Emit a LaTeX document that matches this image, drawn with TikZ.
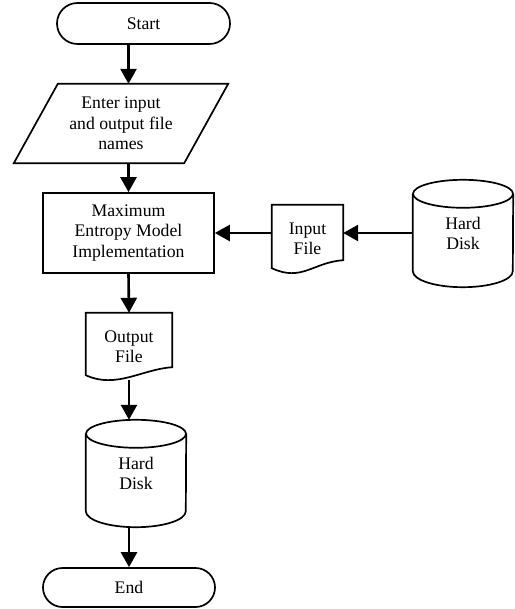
\documentclass[tikz,border=0pt]{standalone}
\usepackage{fontspec}
\setmainfont{Liberation Serif}
\usetikzlibrary{arrows.meta,shapes.misc}

\begin{document}
\begin{tikzpicture}[x=1pt, y=-1pt,
    every node/.style={font=\fontsize{17.7}{20.5}\selectfont, align=center},
    term/.style={rounded rectangle, draw, line width=1.7pt, inner sep=0pt},
    proc/.style={rectangle, draw, line width=1.7pt, inner sep=0pt},
    box/.style={rectangle, inner sep=0pt},
    ln/.style={line width=1.7pt, line join=miter},
    e/.style={line width=2.6pt, -{Triangle[length=15pt, width=16pt]}},
  ]
  \useasboundingbox (0,0) rectangle (514,609);
  \node[term, minimum width=173pt, minimum height=41pt] (start) at (143.5, 23.5) {Start};
  \node[box, minimum width=214pt, minimum height=79pt] (io) at (121, 123.5) {Enter input\\and output file\\names};
  \node[proc, minimum width=171pt, minimum height=80pt] (impl) at (128.5, 233) {Maximum\\Entropy Model\\Implementation};
  \node[box, minimum width=71pt, minimum height=68pt] (inf) at (307.5, 239) {Input\\File};
  \node[box, minimum width=100pt, minimum height=107pt] (hd1) at (463, 233.5) {Hard\\Disk};
  \node[box, minimum width=86pt, minimum height=67pt] (outf) at (129, 346.5) {Output\\File};
  \node[box, minimum width=100pt, minimum height=107pt] (hd2) at (136, 473.5) {Hard\\Disk};
  \node[term, minimum width=172pt, minimum height=39pt] (stop) at (129, 587.5) {End};
  % input/output parallelogram
  \draw[ln] ([xshift=44pt]io.north west) -- (io.north east)
    -- ([xshift=-44pt]io.south east) -- (io.south west) -- cycle;
  % document shapes
  \foreach \f in {inf,outf}
    \draw[ln] ([yshift=5pt]\f.south west) -- (\f.north west) -- (\f.north east)
      -- ([yshift=13pt]\f.south east) .. controls +(-30,2) and +(30,14) .. ([yshift=5pt]\f.south west) -- cycle;
  % disks
  \foreach \d in {hd1,hd2} {
    \draw[ln] ([yshift=-14pt]\d.north) ellipse[x radius=50pt, y radius=14pt];
    \draw[ln] ([yshift=-14pt]\d.north west) -- ([yshift=16pt]\d.south west)
      arc[start angle=180, end angle=360, x radius=50pt, y radius=16pt]
      -- ([yshift=-14pt]\d.north east);
  }
  \draw[e] (start.south -| impl.north) -- (io.north -| impl.north);
  \draw[e] (io.south -| impl.north) -- (impl.north);
  \draw[e] (hd1.west |- impl.east) -- (inf.east |- impl.east);
  \draw[e] (inf.west |- impl.east) -- (impl.east);
  \draw[e] (impl.south) -- (outf.north);
  \draw[e] (outf.south) -- (outf.south |- hd2.north);
  \draw[e] (outf.south |- hd2.south) -- (stop.north);
\end{tikzpicture}
\end{document}
